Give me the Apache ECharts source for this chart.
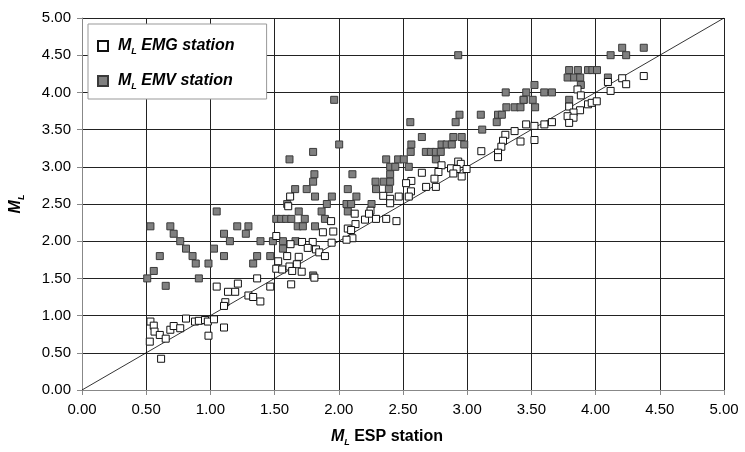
<!DOCTYPE html>
<html>
<head>
<meta charset="utf-8">
<script src="https://cdn.jsdelivr.net/npm/echarts@6/dist/echarts.min.js"></script>
<style>html,body{margin:0;padding:0;background:#fff}#c{width:745px;height:452px}</style>
</head>
<body>
<div id="c"></div>
<script>
var axisTicks = [0, 0.5, 1, 1.5, 2, 2.5, 3, 3.5, 4, 4.5, 5];
var seriesNames = ['EMG', 'EMV'];
var emgPoints = [
[1.364,1.50],[1.049,1.39],[1.137,1.32],[1.193,1.32],[1.214,1.43],[1.296,1.27],[1.333,1.25],[1.389,1.19],[1.116,1.18],[1.106,1.13],
[0.533,0.92],[0.559,0.865],[0.565,0.785],[0.606,0.74],[0.652,0.69],[0.528,0.65],[0.688,0.81],[0.714,0.86],[0.765,0.83],[0.81,0.96],
[0.88,0.92],[0.91,0.93],[0.958,0.94],[0.98,0.92],[1.028,0.95],[0.985,0.73],[1.106,0.84],[0.616,0.42],
[1.621,2.60],[1.606,2.47],[2.124,2.37],[2.247,2.41],[2.204,2.29],[2.29,2.30],[1.94,2.27],[2.13,2.23],[2.07,2.17],[2.096,2.15],
[1.957,2.13],[1.876,2.12],[2.106,2.04],[2.06,2.02],[1.513,2.07],[1.624,1.96],[1.714,1.99],[1.797,1.99],[1.758,1.91],[1.822,1.89],
[1.944,1.98],[1.848,1.85],[1.892,1.80],[1.598,1.80],[1.688,1.79],[1.528,1.73],[1.673,1.69],[1.513,1.63],[1.559,1.62],[1.616,1.66],
[1.637,1.60],[1.711,1.59],[1.81,1.51],[1.466,1.39],[1.629,1.42],
[3.459,3.57],[3.369,3.48],[3.297,3.43],[3.415,3.34],[3.279,3.35],[3.266,3.27],[3.11,3.21],[3.24,3.19],[3.24,3.13],[2.93,3.07],
[2.80,3.02],[2.95,3.04],[2.874,2.98],[2.918,2.97],[2.995,2.97],[2.776,2.93],[2.892,2.91],[2.957,2.87],[2.647,2.92],[2.745,2.84],
[2.565,2.81],[2.524,2.78],[2.756,2.73],[2.68,2.73],[2.562,2.67],[2.467,2.60],[2.346,2.61],[2.40,2.57],[2.40,2.51],[2.545,2.60],
[2.235,2.37],[2.369,2.30],[2.449,2.27],
[4.375,4.22],[4.207,4.19],[4.238,4.11],[4.096,4.14],[4.117,4.02],[3.859,4.04],[3.885,3.96],[3.794,3.81],[3.879,3.76],[3.941,3.84],
[3.97,3.86],[4.009,3.88],[3.828,3.73],[3.782,3.68],[3.828,3.66],[3.794,3.59],[3.66,3.60],[3.601,3.57],[3.524,3.55],[3.524,3.36]
];
var emvPoints = [
[1.049,2.4],[0.533,2.2],[0.688,2.2],[0.714,2.1],[0.765,2.0],[0.81,1.9],[0.861,1.8],[0.886,1.7],[0.606,1.8],[0.559,1.6],
[0.508,1.5],[0.652,1.4],[0.91,1.5],[0.985,1.7],[1.028,1.9],[1.106,2.1],[1.152,2.0],[1.106,1.8],[1.209,2.2],[1.296,2.2],
[1.276,2.1],[1.333,1.7],[1.364,1.8],[1.39,2.0],
[1.964,3.9],[2.003,3.3],[1.80,3.2],[1.616,3.1],[1.81,2.9],[1.80,2.8],[1.66,2.7],[1.75,2.7],[1.815,2.6],[1.946,2.6],
[2.106,2.9],[2.286,2.8],[2.29,2.7],[2.07,2.7],[2.137,2.6],[1.598,2.5],[1.907,2.5],[2.06,2.5],[2.096,2.5],[2.255,2.5],
[2.07,2.4],[1.688,2.4],[1.866,2.4],[1.513,2.3],[1.551,2.3],[1.59,2.3],[1.63,2.3],[1.735,2.3],[1.892,2.3],[1.68,2.2],
[1.72,2.2],[1.815,2.2],[1.487,2.0],[1.565,2.0],[1.663,2.0],[1.565,1.9],[1.466,1.8],[1.80,1.54],
[2.557,3.6],[2.91,3.6],[2.94,3.7],[3.106,3.7],[3.24,3.7],[3.27,3.7],[3.23,3.6],[3.305,3.8],[3.37,3.8],[3.415,3.8],
[3.44,3.9],[3.117,3.5],[2.647,3.4],[2.892,3.4],[2.957,3.4],[2.565,3.3],[2.80,3.3],[2.84,3.3],[2.88,3.3],[2.977,3.3],
[2.56,3.2],[2.678,3.2],[2.717,3.2],[2.756,3.2],[2.794,3.2],[2.369,3.1],[2.462,3.1],[2.506,3.1],[2.756,3.1],[2.40,3.0],
[2.44,3.0],[2.545,3.0],[2.40,2.9],[2.35,2.8],[2.40,2.8],[2.39,2.7],[2.93,4.5],
[4.207,4.6],[4.375,4.6],[4.117,4.5],[4.238,4.5],[3.794,4.3],[3.862,4.3],[3.941,4.3],[3.975,4.3],[4.011,4.3],[3.782,4.2],
[3.833,4.2],[3.88,4.2],[4.096,4.2],[3.885,4.1],[3.524,4.1],[3.30,4.0],[3.46,4.0],[3.60,4.0],[3.66,4.0],[3.439,3.9],
[3.51,3.9],[3.794,3.9],[3.529,3.8]
];
var identityLine = [[0, 0], [5, 5]];

var FONT = 'Liberation Sans, Arial, sans-serif';
var chart = echarts.init(document.getElementById('c'), null, {renderer: 'canvas'});
function axisCommon() {
  return {
    type: 'value', min: axisTicks[0], max: axisTicks[axisTicks.length - 1], interval: axisTicks[1] - axisTicks[0],
    axisLine: {show: true, lineStyle: {color: '#888', width: 1}},
    axisTick: {show: true, inside: false, length: 5, lineStyle: {color: '#888'}},
    splitLine: {show: true, lineStyle: {color: '#222', width: 1}},
    axisLabel: {color: '#000', fontFamily: FONT, fontSize: 15, formatter: function (v) { return v.toFixed(2); }}
  };
}
var nameRich = {
  m: {fontFamily: FONT, fontSize: 16, fontWeight: 'bold', fontStyle: 'italic', color: '#000', lineHeight: 20},
  s: {fontFamily: FONT, fontSize: 9, fontWeight: 'bold', fontStyle: 'italic', color: '#000', lineHeight: 12, verticalAlign: 'bottom'},
  t: {fontFamily: FONT, fontSize: 16, fontWeight: 'bold', color: '#000', lineHeight: 20}
};
var xAx = axisCommon();
xAx.name = '{m|M}{s|L}{t| ESP station}';
xAx.nameLocation = 'middle';
xAx.nameGap = 37;
xAx.nameTextStyle = {rich: nameRich, padding: [0, 32, 0, 0]};
xAx.axisLabel.margin = 12;
var yAx = axisCommon();
yAx.name = '{m|M}{s|L}';
yAx.nameLocation = 'middle';
yAx.nameGap = 56;
yAx.nameTextStyle = {rich: nameRich};
yAx.axisLabel.margin = 11;

var legendRich = {
  m: {fontFamily: FONT, fontSize: 16, fontWeight: 'bold', fontStyle: 'italic', color: '#000', lineHeight: 20, padding: [0, 0, 0, 5]},
  s: {fontFamily: FONT, fontSize: 9, fontWeight: 'bold', fontStyle: 'italic', color: '#000', lineHeight: 12, verticalAlign: 'bottom'},
  t: {fontFamily: FONT, fontSize: 16, fontWeight: 'bold', fontStyle: 'italic', color: '#000', lineHeight: 20}
};

chart.setOption({
  animation: false,
  backgroundColor: '#fff',
  grid: {left: 78, right: 21, top: 18, bottom: 56, containLabel: false},
  xAxis: xAx,
  yAxis: yAx,
  legend: {
    data: seriesNames, orient: 'vertical', left: 88, top: 24,
    padding: [14, 32, 8, 9], itemGap: 17, itemWidth: 10, itemHeight: 10,
    backgroundColor: '#fff', borderColor: '#999', borderWidth: 1,
    icon: 'rect',
    formatter: function (n) { return '{m|M}{s|L}{t| ' + n + ' station}'; },
    textStyle: {rich: legendRich}
  },
  series: [
    {name: 'diag', type: 'line', data: identityLine, symbol: 'none', silent: true,
     lineStyle: {color: '#000', width: 0.8}, z: 1},
    {name: seriesNames[0], type: 'scatter', data: emgPoints, symbol: 'rect', symbolSize: 7,
     itemStyle: {color: '#fff', borderColor: '#111', borderWidth: 1, opacity: 1}, z: 3},
    {name: seriesNames[1], type: 'scatter', data: emvPoints, symbol: 'rect', symbolSize: 7,
     itemStyle: {color: '#808080', borderColor: '#3a3a3a', borderWidth: 1, opacity: 1}, z: 2}
  ]
});
</script>
</body>
</html>
